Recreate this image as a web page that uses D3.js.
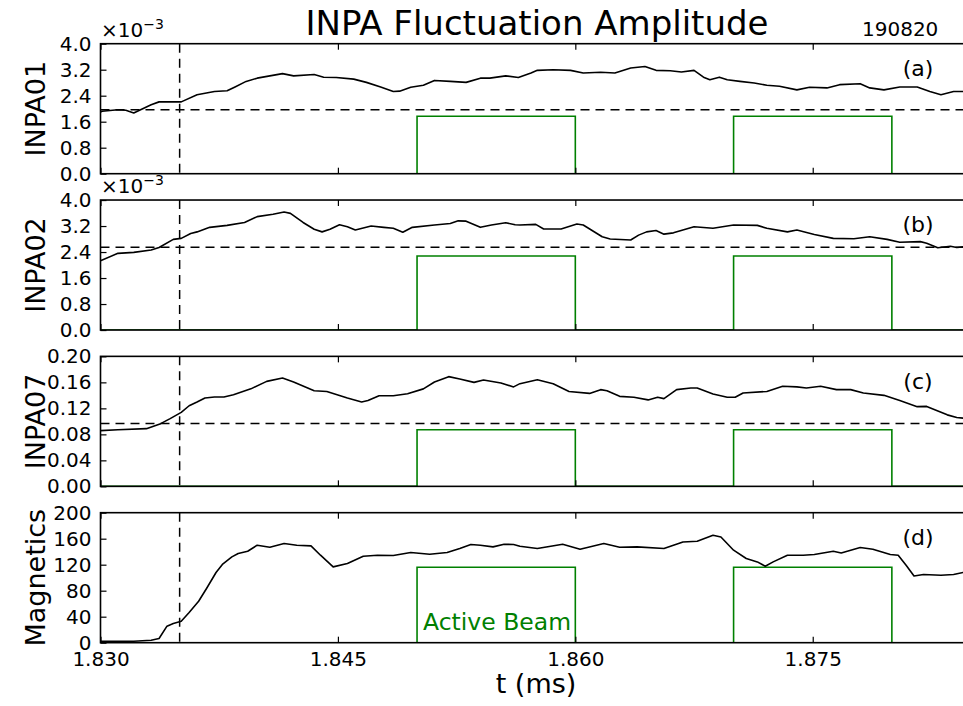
<!DOCTYPE html>
<html>
<head>
<meta charset="utf-8">
<script src="https://cdn.jsdelivr.net/npm/d3@7"></script>
<style>
  html, body { margin: 0; padding: 0; background: #fff; overflow: hidden; }
  svg { display: block; font-family: "DejaVu Sans", sans-serif; }
</style>
</head>
<body>
<svg id="chart" width="963" height="706"></svg>
<script>
// ---------------- data ----------------
const panelNames = ["INPA01", "INPA02", "INPA07", "Magnetics"];
const panelTags = ["(a)", "(b)", "(c)", "(d)"];
const yMax = [4.0, 4.0, 0.20, 200];
const yTicksA = [0.0, 0.8, 1.6, 2.4, 3.2, 4.0];
const yTicksB = [0.0, 0.8, 1.6, 2.4, 3.2, 4.0];
const yTicksC = [0.00, 0.04, 0.08, 0.12, 0.16, 0.20];
const yTicksD = [0, 40, 80, 120, 160, 200];
const xTicks = [1.830, 1.845, 1.860, 1.875];
const xDomain = [1.830, 1.885];
const markerTime = 1.835;
const thresholds = [1.97, 2.545, 0.0969, null];
const beamStart = [1.850, 1.870];
const beamEnd = [1.860, 1.880];
const beamLevel = [1.77, 2.28, 0.0872, 116];

// INPA01 (x1e-3)
const tA = [1.8300,1.8301,1.8311,1.8316,1.8321,1.8332,1.8337,1.8351,1.8361,1.8372,1.8380,1.8385,1.8392,1.8399,1.8407,1.8415,1.8422,1.8435,1.8441,1.8449,1.8460,1.8468,1.8477,1.8485,1.8489,1.8496,1.8504,1.8511,1.8521,1.8531,1.8540,1.8546,1.8556,1.8564,1.8572,1.8576,1.8586,1.8597,1.8605,1.8616,1.8625,1.8635,1.8644,1.8651,1.8660,1.8667,1.8675,1.8681,1.8685,1.8691,1.8696,1.8704,1.8713,1.8721,1.8729,1.8740,1.8748,1.8759,1.8767,1.8780,1.8786,1.8795,1.8805,1.8816,1.8824,1.8831,1.8839,1.8845];
const vA = [1.90,1.92,1.97,1.95,1.87,2.12,2.21,2.21,2.43,2.53,2.55,2.67,2.84,2.94,3.01,3.08,3.01,3.05,2.97,2.96,2.91,2.81,2.67,2.53,2.54,2.66,2.72,2.87,2.84,2.81,2.94,2.94,3.01,2.96,3.10,3.18,3.20,3.18,3.10,3.12,3.10,3.25,3.30,3.18,3.17,3.13,3.18,2.97,2.89,2.97,2.89,2.84,2.79,2.72,2.69,2.58,2.66,2.64,2.74,2.77,2.64,2.58,2.67,2.67,2.53,2.43,2.53,2.53];

// INPA02 (x1e-3)
const tB = [1.8300,1.8311,1.8321,1.8332,1.8337,1.8346,1.8351,1.8357,1.8361,1.8369,1.8380,1.8391,1.8399,1.8409,1.8416,1.8420,1.8428,1.8435,1.8440,1.8445,1.8451,1.8456,1.8461,1.8471,1.8479,1.8485,1.8491,1.8497,1.8511,1.8521,1.8526,1.8531,1.8540,1.8547,1.8556,1.8562,1.8565,1.8575,1.8580,1.8591,1.8601,1.8605,1.8617,1.8622,1.8635,1.8640,1.8645,1.8651,1.8656,1.8662,1.8675,1.8687,1.8700,1.8715,1.8721,1.8734,1.8740,1.8751,1.8763,1.8776,1.8786,1.8797,1.8805,1.8818,1.8822,1.8829,1.8837,1.8841,1.8845];
const vB = [2.13,2.36,2.39,2.46,2.54,2.79,2.82,2.97,3.02,3.16,3.22,3.31,3.49,3.56,3.63,3.59,3.31,3.10,3.02,3.10,3.24,3.18,3.08,3.20,3.16,3.13,3.01,3.16,3.23,3.28,3.36,3.35,3.16,3.23,3.30,3.24,3.23,3.25,3.11,3.11,3.26,3.23,2.87,2.80,2.77,2.92,3.02,3.06,2.95,2.99,3.18,3.13,3.23,3.22,3.13,3.02,3.08,2.94,2.82,2.81,2.87,2.79,2.70,2.72,2.67,2.53,2.58,2.54,2.56];

// INPA07
const tC = [1.8300,1.8311,1.8329,1.8338,1.8344,1.8351,1.8356,1.8361,1.8366,1.8372,1.8378,1.8384,1.8395,1.8405,1.8415,1.8422,1.8435,1.8443,1.8456,1.8465,1.8469,1.8476,1.8485,1.8494,1.8504,1.8511,1.8520,1.8527,1.8536,1.8542,1.8553,1.8561,1.8565,1.8576,1.8586,1.8596,1.8609,1.8616,1.8620,1.8628,1.8637,1.8646,1.8652,1.8656,1.8664,1.8673,1.8677,1.8687,1.8696,1.8701,1.8706,1.8721,1.8731,1.8740,1.8746,1.8755,1.8765,1.8774,1.8782,1.8795,1.8805,1.8816,1.8822,1.8835,1.8841,1.8845];
const vC = [0.0857,0.0872,0.0888,0.0965,0.1042,0.1138,0.124,0.1298,0.136,0.1375,0.1375,0.141,0.150,0.1615,0.1667,0.1606,0.147,0.146,0.136,0.1298,0.132,0.1395,0.1395,0.1426,0.150,0.1606,0.1688,0.1652,0.160,0.1637,0.159,0.153,0.158,0.164,0.158,0.146,0.143,0.1488,0.147,0.1385,0.137,0.133,0.137,0.135,0.1488,0.1514,0.1514,0.142,0.137,0.137,0.1437,0.146,0.154,0.153,0.1514,0.154,0.1488,0.1488,0.1437,0.140,0.132,0.1226,0.123,0.110,0.106,0.105];

// Magnetics
const tD = [1.8300,1.8321,1.8332,1.8337,1.8342,1.8346,1.8351,1.8356,1.8362,1.8367,1.8373,1.8377,1.8383,1.8387,1.8393,1.8399,1.8407,1.8416,1.8424,1.8433,1.8439,1.8447,1.8456,1.8466,1.8475,1.8485,1.8496,1.8508,1.8519,1.8527,1.8534,1.8540,1.8548,1.8555,1.8561,1.8565,1.8576,1.8592,1.8603,1.8618,1.8628,1.8639,1.8656,1.8668,1.8677,1.8687,1.8692,1.8700,1.8708,1.8715,1.8720,1.8725,1.8734,1.8744,1.8751,1.8763,1.8768,1.8780,1.8788,1.8799,1.8804,1.8809,1.8814,1.8820,1.8831,1.8839,1.8845];
const vD = [2.3,2.3,3.8,6.5,25.4,29.5,33,46.4,63.8,83.4,108,120.3,132,137.2,140.7,150,146.9,152.6,150,148.9,134.6,116.6,121.8,133,134.6,134.1,138.7,136.1,138.7,144.9,151,150,147.4,151.5,151,148.4,144.9,151.5,143.8,152.6,146.9,147.4,144.9,155,156.1,165.4,162.7,142.3,129.5,124.3,117.7,124.3,134.6,134.6,135.7,140.7,138.1,146.4,143.8,135.7,134.6,119.2,102.7,104.9,103.8,104.9,108];

const seriesT = [tA, tB, tC, tD];
const seriesV = [vA, vB, vC, vD];
const yTicks = [yTicksA, yTicksB, yTicksC, yTicksD];
const tickFormats = [d3.format(".1f"), d3.format(".1f"), d3.format(".2f"), d3.format("d")];

// ---------------- layout ----------------
const svg = d3.select("#chart");
const left = 100.5, right = 971;
const panelTop0 = 43.7, panelStep = 156.33, panelH = 130;
const x = d3.scaleLinear().domain(xDomain).range([left, right]);
const green = "#008000";
const font = "DejaVu Sans";

// title
svg.append("text").attr("x", 537).attr("y", 35).attr("text-anchor", "middle")
  .attr("font-size", 34).text("INPA Fluctuation Amplitude");
svg.append("text").attr("x", 862).attr("y", 36).attr("font-size", 20).text("190820");

panelNames.forEach((name, i) => {
  const top = panelTop0 + i * panelStep;
  const bottom = top + panelH;
  const y = d3.scaleLinear().domain([0, yMax[i]]).range([bottom, top]);
  const g = svg.append("g");

  const clipId = "clip" + i;
  svg.append("clipPath").attr("id", clipId).append("rect")
    .attr("x", left).attr("y", top).attr("width", right - left).attr("height", panelH);
  const plot = g.append("g").attr("clip-path", `url(#${clipId})`);

  // beam (step) line
  const beamPts = [[xDomain[0], 0]];
  beamStart.forEach((s, k) => {
    beamPts.push([s, 0], [s, beamLevel[i]], [beamEnd[k], beamLevel[i]], [beamEnd[k], 0]);
  });
  beamPts.push([xDomain[1], 0]);
  plot.append("path").attr("d", d3.line().x(d => x(d[0])).y(d => y(d[1]))(beamPts))
    .attr("fill", "none").attr("stroke", green).attr("stroke-width", 1.6);

  // threshold
  if (thresholds[i] !== null) {
    plot.append("line").attr("x1", left).attr("x2", right)
      .attr("y1", y(thresholds[i])).attr("y2", y(thresholds[i]))
      .attr("stroke", "#000").attr("stroke-width", 1.5).attr("stroke-dasharray", "9,6");
  }
  // vertical marker
  plot.append("line").attr("x1", x(markerTime)).attr("x2", x(markerTime))
    .attr("y1", top).attr("y2", bottom)
    .attr("stroke", "#000").attr("stroke-width", 1.5).attr("stroke-dasharray", "9,6");

  // data curve
  const pts = seriesT[i].map((t, k) => [t, seriesV[i][k]]);
  plot.append("path").attr("d", d3.line().x(d => x(d[0])).y(d => y(d[1]))(pts))
    .attr("fill", "none").attr("stroke", "#000").attr("stroke-width", 1.6)
    .attr("stroke-linejoin", "round");

  // axes
  const yAxis = d3.axisLeft(y).tickValues(yTicks[i]).tickFormat(tickFormats[i])
    .tickSizeInner(-6).tickSizeOuter(0).tickPadding(9);
  const ga = g.append("g").attr("transform", `translate(${left},0)`).call(yAxis);
  ga.select(".domain").remove();
  ga.selectAll("text").attr("font-size", 20).attr("font-family", font).attr("fill", "#000");
  ga.selectAll("line").attr("stroke", "#000").attr("stroke-width", 1.2);

  const xb = d3.axisBottom(x).tickValues(xTicks).tickFormat(d3.format(".3f"))
    .tickSizeInner(-6).tickSizeOuter(0).tickPadding(9.5);
  const gb = g.append("g").attr("transform", `translate(0,${bottom})`).call(xb);
  gb.select(".domain").remove();
  gb.selectAll("line").attr("stroke", "#000").attr("stroke-width", 1.2);
  gb.selectAll("text").attr("font-size", 20).attr("font-family", font).attr("fill", "#000");
  if (i !== 3) gb.selectAll("text").remove();

  const xt = d3.axisTop(x).tickValues(xTicks).tickFormat("")
    .tickSizeInner(-6).tickSizeOuter(0);
  const gt = g.append("g").attr("transform", `translate(0,${top})`).call(xt);
  gt.select(".domain").remove();
  gt.selectAll("line").attr("stroke", "#000").attr("stroke-width", 1.2);

  // frame
  g.append("rect").attr("x", left).attr("y", top).attr("width", right - left).attr("height", panelH)
    .attr("fill", "none").attr("stroke", "#000").attr("stroke-width", 1.6);

  // y label
  g.append("text").attr("transform", `translate(45,${top + panelH / 2}) rotate(-90)`)
    .attr("text-anchor", "middle").attr("font-size", 27).text(name);

  // panel tag
  g.append("text").attr("x", 918).attr("y", top + 32.3).attr("text-anchor", "middle")
    .attr("font-size", 22).text(panelTags[i]);

  // offset label
  if (i < 2) {
    const t = g.append("text").attr("x", 101).attr("y", top - 6.7).attr("font-size", 20);
    t.append("tspan").text("\u00d710");
    t.append("tspan").attr("font-size", 14).attr("dy", -8).text("\u22123");
  }

  if (i === 3) {
    g.append("text").attr("x", 423).attr("y", 630).attr("font-size", 23.5)
      .attr("fill", green).text("Active Beam");
  }
});

svg.append("text").attr("x", 536).attr("y", 693).attr("text-anchor", "middle")
  .attr("font-size", 27).text("t (ms)");
</script>
</body>
</html>
